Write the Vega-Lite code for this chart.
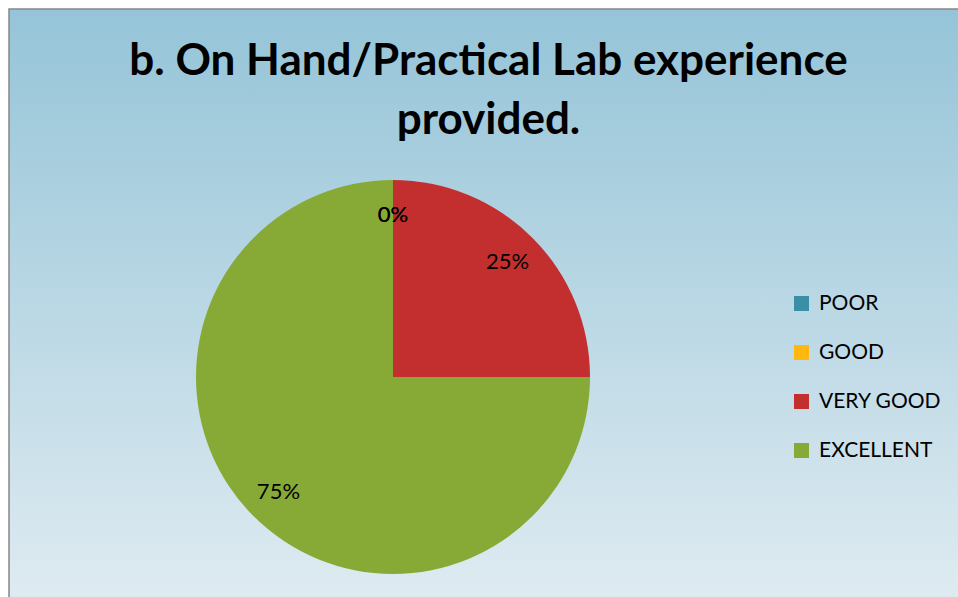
{
  "$schema": "https://vega.github.io/schema/vega-lite/v6.json",
  "autosize": {"type": "none"},
  "width": 953,
  "height": 594,
  "padding": {"left": 9, "top": 9, "right": 0, "bottom": 0},
  "background": "white",
  "view": {
    "fill": {
      "gradient": "linear",
      "x1": 0, "y1": 0, "x2": 0, "y2": 1,
      "stops": [
        {"offset": 0, "color": "#95c4d8"},
        {"offset": 1, "color": "#dfebf1"}
      ]
    },
    "stroke": "#868686",
    "strokeWidth": 1.5
  },
  "title": {
    "text": ["b. On Hand/Practical Lab experience", "provided."],
    "font": "Lato",
    "fontSize": 44,
    "fontWeight": "bold",
    "color": "black",
    "anchor": "middle",
    "frame": "group",
    "baseline": "top",
    "lineHeight": 59,
    "offset": -134,
    "dx": 3
  },
  "data": {
    "values": [
      {"rating": "POOR", "share": 0, "label": "0%", "ord": 1},
      {"rating": "GOOD", "share": 0, "label": "0%", "ord": 2},
      {"rating": "VERY GOOD", "share": 25, "label": "25%", "ord": 3},
      {"rating": "EXCELLENT", "share": 75, "label": "75%", "ord": 4}
    ]
  },
  "encoding": {
    "theta": {"field": "share", "type": "quantitative", "stack": true},
    "order": {"field": "ord", "type": "quantitative"}
  },
  "layer": [
    {
      "mark": {"type": "arc", "outerRadius": 197, "xOffset": -92.5, "yOffset": 71},
      "encoding": {
        "color": {
          "field": "rating",
          "type": "nominal",
          "scale": {
            "domain": ["POOR", "GOOD", "VERY GOOD", "EXCELLENT"],
            "range": ["#3a8fa7", "#ffb812", "#c32f2f", "#86aa35"]
          },
          "legend": {
            "title": null,
            "orient": "none",
            "legendX": 782,
            "legendY": 284,
            "padding": 0,
            "symbolType": "square",
            "symbolSize": 225,
            "symbolStrokeWidth": 0,
            "symbolOpacity": 1,
            "labelFont": "Lato",
            "labelFontSize": 21,
            "labelColor": "black",
            "labelOffset": 7,
            "rowPadding": 27,
            "labelLimit": 300
          }
        }
      }
    },
    {
      "mark": {"type": "text", "radius": 162, "xOffset": -92.5, "yOffset": 71, "font": "Lato", "fontSize": 22, "color": "black", "baseline": "middle", "align": "center"},
      "encoding": {
        "text": {"field": "label", "type": "nominal"}
      }
    }
  ]
}
